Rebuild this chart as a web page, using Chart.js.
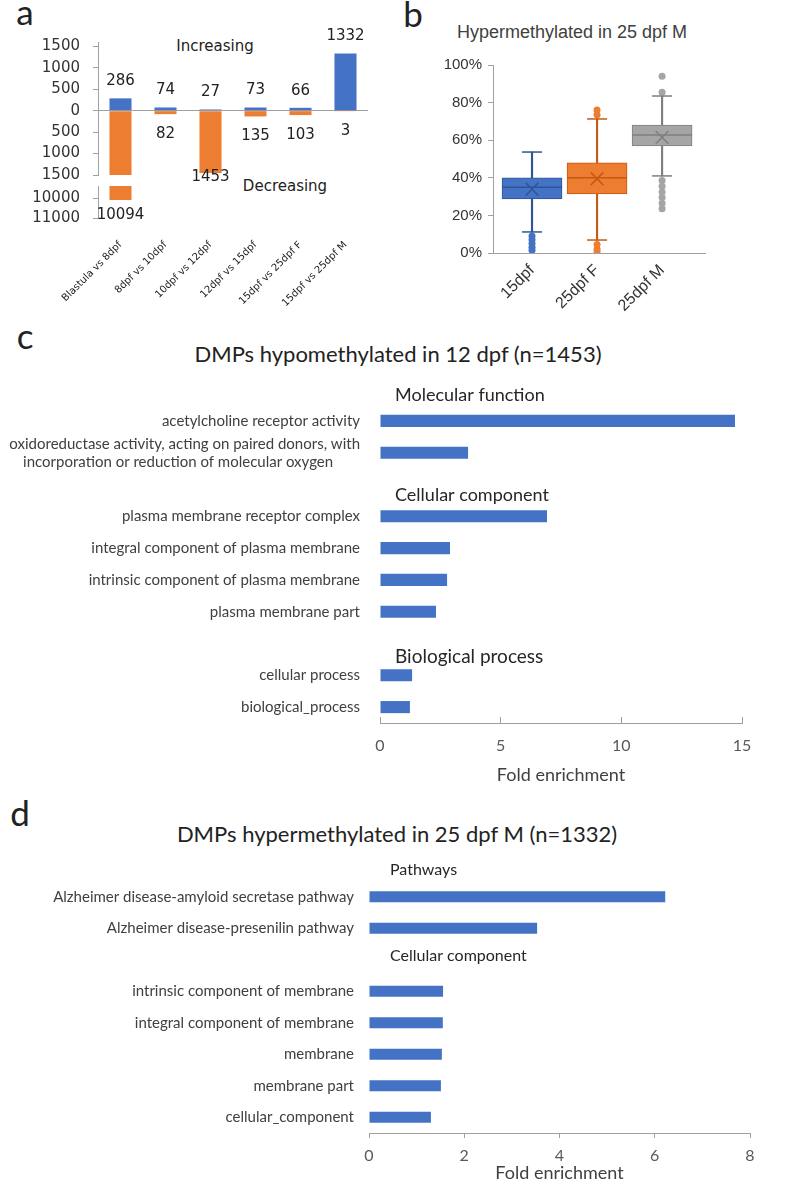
<!DOCTYPE html>
<html><head><meta charset="utf-8">
<script src="https://cdn.jsdelivr.net/npm/chart.js@4.4.1/dist/chart.umd.min.js"></script>
<style>
html,body{margin:0;padding:0;background:#fff;}
body{width:800px;height:1195px;position:relative;overflow:hidden;}
canvas{position:absolute;}
.t{position:absolute;white-space:nowrap;line-height:1;transform:translate(-50%,-50%);color:#222;}
</style></head><body>
<div class="t" style="left:25px;top:11px;font:35px Lato;">a</div>
<div class="t" style="left:413px;top:13px;font:35px Lato;">b</div>
<div class="t" style="left:25px;top:335px;font:35px Lato;">c</div>
<div class="t" style="left:20px;top:812px;font:35px Lato;">d</div>
<div class="t" style="left:215px;top:46px;font:15px 'DejaVu Sans';">Increasing</div>
<div class="t" style="left:285px;top:186px;font:15px 'DejaVu Sans';">Decreasing</div>
<div class="t" style="left:572px;top:32px;font:18px 'Liberation Sans';color:#404040;">Hypermethylated in 25 dpf M</div>
<div class="t" style="left:398px;top:353px;font:22px Lato;">DMPs hypomethylated in 12 dpf (n=1453)</div>
<div class="t" style="left:397px;top:833px;font:22px Lato;">DMPs hypermethylated in 25 dpf M (n=1332)</div>

<canvas id="ca1" width="380" height="197" style="left:0;top:0"></canvas>
<canvas id="ca2" width="380" height="146" style="left:0;top:164px"></canvas>
<canvas id="cb" width="400" height="290" style="left:400px;top:40px"></canvas>
<canvas id="cc" width="800" height="420" style="left:0;top:370px"></canvas>
<canvas id="cd" width="800" height="340" style="left:0;top:855px"></canvas>

<script>
// ---------- Panel a data ----------
const stages = ['Blastula vs 8dpf','8dpf vs 10dpf','10dpf vs 12dpf','12dpf vs 15dpf','15dpf vs 25dpf F','15dpf vs 25dpf M'];
const increasing = [286, 74, 27, 73, 66, 1332];
const decreasing = [10094, 82, 1453, 135, 103, 3];
const upperTicks = [1500, 1000, 500, 0, -500, -1000, -1500];
const lowerTicks = [10000, 11000];

// ---------- Panel b data ----------
const boxLabels = ['15dpf', '25dpf F', '25dpf M'];
const q1 = [28.7, 31.4, 57.0];
const q3 = [40.0, 48.0, 68.0];
const medians = [35.0, 40.0, 62.8];
const means = [34.0, 39.5, 61.5];
const whiskLow = [11.2, 6.9, 41.0];
const whiskHigh = [53.7, 71.3, 83.5];
const outliers15 = [9, 7, 5, 3, 1.5];
const outliers25F = [76, 73.5, 4.5, 2, 0.5];
const outliers25M = [94, 85.5, 38.5, 35.5, 32.5, 29.5, 26.5, 23.5];
const yPercentTicks = [0, 20, 40, 60, 80, 100];

// ---------- Panel c data ----------
const cHeaders = ['Molecular function', 'Cellular component', 'Biological process'];
const cTerms = ['acetylcholine receptor activity',
  ['oxidoreductase activity, acting on paired donors, with', 'incorporation or reduction of molecular oxygen       '],
  '', 'plasma membrane receptor complex', 'integral component of plasma membrane',
  'intrinsic component of plasma membrane', 'plasma membrane part', '',
  'cellular process', 'biological_process'];
const cFold = [14.71, 3.65, null, 6.92, 2.90, 2.78, 2.32, null, 1.33, 1.24];
const cTicks = [0, 5, 10, 15];

// ---------- Panel d data ----------
const dHeaders = ['Pathways', 'Cellular component'];
const dTerms = ['Alzheimer disease-amyloid secretase pathway', 'Alzheimer disease-presenilin pathway', '',
  'intrinsic component of membrane', 'integral component of membrane', 'membrane', 'membrane part', 'cellular_component'];
const dFold = [6.22, 3.53, null, 1.555, 1.55, 1.53, 1.51, 1.30];
const dTicks = [0, 2, 4, 6, 8];

Chart.defaults.animation = false;
Chart.defaults.responsive = false;
Chart.defaults.devicePixelRatio = 1;
Chart.defaults.plugins.legend.display = false;
Chart.defaults.plugins.tooltip.enabled = false;

const BLUE = '#4472C4', ORANGE = '#ED7D31', GRAY = '#A5A5A5';
const AX = '#a0a0a0';

// ----- Panel a, upper segment -----
const aUpperLabels = {
  id: 'aUpperLabels',
  afterDatasetsDraw(chart) {
    const {ctx, scales: {x, y}, chartArea} = chart;
    ctx.save();
    ctx.font = '15px "DejaVu Sans"'; ctx.fillStyle = '#222';
    ctx.textAlign = 'center'; ctx.textBaseline = 'middle';
    increasing.forEach((v, i) => ctx.fillText(String(v), x.getPixelForValue(i), y.getPixelForValue(v) - 17));
    decreasing.forEach((v, i) => {
      if (-v < y.min) return;
      ctx.fillText(String(v), x.getPixelForValue(i), Math.min(y.getPixelForValue(-v) + 20, chartArea.bottom + 2));
    });
    ctx.restore();
  }
};
new Chart(document.getElementById('ca1'), {
  type: 'bar',
  data: {labels: stages, datasets: [
    {data: increasing, backgroundColor: BLUE},
    {data: decreasing.map(v => -v), backgroundColor: ORANGE}
  ]},
  options: {
    layout: {padding: {top: 42, bottom: 5, left: 0, right: 12}},
    datasets: {bar: {barPercentage: 0.49, categoryPercentage: 1}},
    scales: {
      x: {display: false, stacked: true},
      y: {stacked: true, min: -1500, max: 1600,
        afterFit: s => { s.width = 98; },
        afterBuildTicks: s => { s.ticks = upperTicks.map(v => ({value: v})); },
        ticks: {callback: v => String(Math.abs(v)), font: {family: 'DejaVu Sans', size: 15}, color: '#333', padding: 13},
        grid: {color: c => (c.tick && c.tick.value === 0) ? AX : 'rgba(0,0,0,0)', tickColor: AX, tickLength: 5},
        border: {color: AX}
      }
    }
  },
  plugins: [aUpperLabels]
});

// ----- Panel a, lower segment (broken axis) -----
const aLowerLabels = {
  id: 'aLowerLabels',
  afterDatasetsDraw(chart) {
    const {ctx, scales: {x, y}} = chart;
    ctx.save();
    ctx.font = '15px "DejaVu Sans"'; ctx.fillStyle = '#222';
    ctx.textAlign = 'center'; ctx.textBaseline = 'middle';
    decreasing.forEach((v, i) => {
      if (v < y.min) return;
      ctx.fillText(String(v), x.getPixelForValue(i), y.getPixelForValue(v) + 15);
    });
    ctx.restore();
  }
};
new Chart(document.getElementById('ca2'), {
  type: 'bar',
  data: {labels: stages, datasets: [{data: decreasing, backgroundColor: ORANGE}]},
  options: {
    layout: {padding: {top: 0, bottom: 0, left: 0, right: 12}},
    datasets: {bar: {barPercentage: 0.49, categoryPercentage: 1}},
    scales: {
      x: {afterFit: s => { s.height = 92; },
        grid: {display: false, drawTicks: false}, border: {display: false},
        ticks: {autoSkip: false, maxRotation: 45, minRotation: 45, font: {family: 'DejaVu Sans', size: 10}, color: '#222', padding: 21}
      },
      y: {reverse: true, min: 9400, max: 11000,
        afterFit: s => { s.width = 98; },
        afterBuildTicks: s => { s.ticks = lowerTicks.map(v => ({value: v})); },
        ticks: {callback: v => String(v), font: {family: 'DejaVu Sans', size: 15}, color: '#333', padding: 13},
        grid: {drawOnChartArea: false, tickColor: AX, tickLength: 5},
        border: {color: AX}
      }
    }
  },
  plugins: [aLowerLabels]
});

// ----- Panel b: box plot -----
const lineColors = ['#2F5597', '#C55A11', '#7F7F7F'];
const fills = [BLUE, ORANGE, GRAY];
const outlierSets = [outliers15, outliers25F, outliers25M];
const outlierPts = outlierSets.flatMap((arr, i) => arr.map(v => ({x: i, y: v})));
const outlierCols = outlierSets.flatMap((arr, i) => arr.map(() => fills[i]));
const boxExtras = {
  id: 'boxExtras',
  afterDatasetsDraw(chart) {
    const {ctx, scales: {x, y}} = chart;
    ctx.save();
    ctx.lineWidth = 1.5;
    boxLabels.forEach((_, i) => {
      const cx = x.getPixelForValue(i);
      ctx.strokeStyle = lineColors[i];
      [whiskLow[i], whiskHigh[i]].forEach(v => {
        const py = y.getPixelForValue(v);
        ctx.beginPath(); ctx.moveTo(cx - 10, py); ctx.lineTo(cx + 10, py); ctx.stroke();
      });
      const pm = y.getPixelForValue(medians[i]);
      ctx.beginPath(); ctx.moveTo(cx - 30, pm); ctx.lineTo(cx + 30, pm); ctx.stroke();
    });
    ctx.restore();
  }
};
new Chart(document.getElementById('cb'), {
  type: 'bar',
  data: {datasets: [
    {type: 'bar', data: boxLabels.map((_, i) => ({x: i, y: [whiskLow[i], whiskHigh[i]]})),
      backgroundColor: lineColors, barThickness: 1.5, grouped: false, order: 3},
    {type: 'bar', data: boxLabels.map((_, i) => ({x: i, y: [q1[i], q3[i]]})),
      backgroundColor: fills, borderColor: lineColors, borderWidth: 1, borderSkipped: false, barThickness: 60, grouped: false, order: 2},
    {type: 'line', showLine: false, data: means.map((v, i) => ({x: i, y: v})),
      pointStyle: 'crossRot', pointRadius: 9, borderColor: lineColors, pointBorderColor: lineColors, pointBorderWidth: 1.5, order: 1},
    {type: 'line', showLine: false, data: outlierPts,
      pointStyle: 'circle', pointRadius: 3.5, pointBackgroundColor: outlierCols, pointBorderColor: outlierCols, pointBorderWidth: 0, order: 1}
  ]},
  options: {
    layout: {padding: {top: 25, bottom: 0, left: 0, right: 95}},
    scales: {
      x: {type: 'linear', min: -0.6, max: 2.66, offset: false, bounds: 'data',
        afterFit: s => { s.height = 77; },
        afterBuildTicks: s => { s.ticks = boxLabels.map((_, i) => ({value: i})); },
        ticks: {callback: v => boxLabels[v], autoSkip: false, maxRotation: 45, minRotation: 45,
          font: {family: 'Liberation Sans', size: 16}, color: '#333', padding: 8},
        grid: {display: false, drawTicks: false, offset: false}, border: {color: AX}
      },
      y: {min: 0, max: 100,
        afterFit: s => { s.width = 93; },
        afterBuildTicks: s => { s.ticks = yPercentTicks.map(v => ({value: v})); },
        ticks: {callback: v => v + '%', font: {family: 'Liberation Sans', size: 15}, color: '#333', padding: 6},
        grid: {drawOnChartArea: false, tickColor: AX, tickLength: 5},
        border: {color: AX}
      }
    }
  },
  plugins: [boxExtras]
});

// ----- Panels c & d: horizontal bars -----
const headerPlugin = {
  id: 'groupHeaders',
  afterDatasetsDraw(chart, args, opts) {
    const {ctx, scales: {y}, chartArea} = chart;
    ctx.save();
    ctx.fillStyle = '#262626'; ctx.textAlign = 'left'; ctx.textBaseline = 'middle';
    opts.items.forEach(h => {
      ctx.font = h.size + 'px Lato';
      ctx.fillText(h.text, chartArea.left + opts.dx, y.getPixelForValue(h.at));
    });
    ctx.restore();
  }
};
function hbar(id, terms, values, ticksArr, xmax, L) {
  return new Chart(document.getElementById(id), {
    type: 'bar',
    data: {labels: terms, datasets: [{data: values, backgroundColor: BLUE, barPercentage: L.barPct, categoryPercentage: 1}]},
    options: {
      indexAxis: 'y',
      layout: {padding: {top: L.padTop, bottom: L.padBottom, left: 0, right: L.padRight}},
      plugins: {groupHeaders: {items: L.headers, dx: L.dx}},
      scales: {
        y: {afterFit: s => { s.width = L.yWidth; },
          ticks: {autoSkip: false, font: {family: 'Lato', size: 15}, color: '#404040', padding: L.labelPad},
          grid: {display: false, drawTicks: false}, border: {display: false}
        },
        x: {min: 0, max: xmax,
          afterFit: s => { s.height = L.xHeight; },
          afterBuildTicks: s => { s.ticks = ticksArr.map(v => ({value: v})); },
          ticks: {font: {family: 'Lato', size: 16}, color: '#595959', padding: L.tickPad},
          grid: {drawOnChartArea: false, tickColor: AX, tickLength: L.tickLen},
          border: {color: AX},
          title: {display: true, text: 'Fold enrichment', font: {family: 'Lato', size: 18}, color: '#404040', padding: {top: 0, bottom: 0}}
        }
      }
    },
    plugins: [headerPlugin]
  });
}
hbar('cc', cTerms, cFold, cTicks, 15, {padTop: 35, padBottom: 4, padRight: 58, yWidth: 380, xHeight: 63, labelPad: 20, dx: 15, barPct: 0.38,
  tickLen: -6, tickPad: 19,
  headers: [{text: cHeaders[0], at: -0.82, size: 18}, {text: cHeaders[1], at: 2.34, size: 18}, {text: cHeaders[2], at: 7.43, size: 19}]});
hbar('cd', dTerms, dFold, dTicks, 8, {padTop: 26, padBottom: 11, padRight: 50, yWidth: 369, xHeight: 51, labelPad: 15, dx: 21, barPct: 0.35,
  tickLen: 5, tickPad: 8,
  headers: [{text: dHeaders[0], at: -0.86, size: 16}, {text: dHeaders[1], at: 1.88, size: 16}]});
</script>
</body></html>
